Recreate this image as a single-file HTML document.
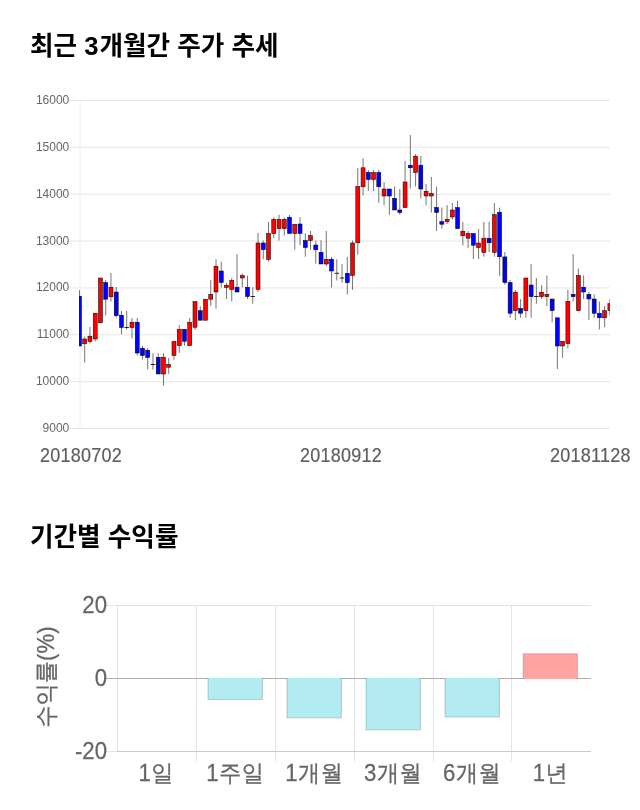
<!DOCTYPE html>
<html lang="ko">
<head>
<meta charset="utf-8">
<title>최근 3개월간 주가 추세</title>
<style>
html,body{margin:0;padding:0;background:#fff;}
body{width:640px;height:810px;position:relative;overflow:hidden;font-family:"Liberation Sans","Noto Sans CJK KR",sans-serif;}
h2{position:absolute;margin:0;left:30px;font-family:"Liberation Sans","Noto Sans CJK KR",sans-serif;font-weight:700;font-size:25.6px;line-height:36px;color:#000;white-space:nowrap;letter-spacing:0;word-spacing:0.07px;}
h2 b{font-weight:inherit;letter-spacing:0.87px;}
#t1{top:28.2px;}
#t2{top:518.6px;}
svg{position:absolute;left:0;top:0;}
.yl{font-family:"Liberation Sans",sans-serif;font-size:12px;fill:#666;text-anchor:end;}
.xl{position:absolute;top:442.7px;font-family:"Liberation Sans","Noto Sans CJK KR",sans-serif;font-size:18px;line-height:26px;color:#5e5e5e;-webkit-text-stroke:0.2px #5e5e5e;white-space:nowrap;letter-spacing:0.25px;transform:scaleY(1.08);transform-origin:0 21px;}
.bl{font-family:"Liberation Sans","WenQuanYi Zen Hei","Noto Sans CJK KR",sans-serif;font-size:22.2px;fill:#666;stroke:#666;stroke-width:0.25px;}
</style>
</head>
<body>
<h2 id="t1">최근 <b>3</b>개월간 주가 추세</h2>
<div class="xl" style="left:40px;">20180702</div>
<div class="xl" style="left:300px;">20180912</div>
<div class="xl" style="left:550px;">20181128</div>
<h2 id="t2">기간별 수익률</h2>
<svg width="640" height="810" viewBox="0 0 640 810">

<g id="grid1" stroke="#e6e6e6" stroke-width="1" fill="none">
<line x1="69.3" y1="100.50" x2="610" y2="100.50"/>
<line x1="69.3" y1="147.36" x2="610" y2="147.36"/>
<line x1="69.3" y1="194.22" x2="610" y2="194.22"/>
<line x1="69.3" y1="241.08" x2="610" y2="241.08"/>
<line x1="69.3" y1="287.94" x2="610" y2="287.94"/>
<line x1="69.3" y1="334.80" x2="610" y2="334.80"/>
<line x1="69.3" y1="381.66" x2="610" y2="381.66"/>
<line x1="69.3" y1="428.52" x2="610" y2="428.52"/>
<line x1="80" y1="100.00" x2="80" y2="428.52" stroke="#ececec"/>
</g>
<g id="ylabels1">
<text class="yl" x="69.3" y="104">16000</text>
<text class="yl" x="69.3" y="151">15000</text>
<text class="yl" x="69.3" y="198">14000</text>
<text class="yl" x="69.3" y="245">13000</text>
<text class="yl" x="69.3" y="291">12000</text>
<text class="yl" x="69.3" y="338">11000</text>
<text class="yl" x="69.3" y="385">10000</text>
<text class="yl" x="69.3" y="432">9000</text>
</g>
<clipPath id="cp"><rect x="79" y="90" width="531" height="345"/></clipPath>
<g id="candles" clip-path="url(#cp)">
<line x1="79.45" y1="290.0" x2="79.45" y2="346.0" stroke="#000" stroke-width="0.55"/>
<rect x="77.45" y="296.2" width="4.00" height="49.8" fill="#0000ff" stroke="#000" stroke-width="0.50"/>
<line x1="84.70" y1="336.5" x2="84.70" y2="362.5" stroke="#000" stroke-width="0.55"/>
<rect x="82.70" y="339.0" width="4.00" height="4.8" fill="#ff0000" stroke="#000" stroke-width="0.50"/>
<line x1="89.95" y1="327.0" x2="89.95" y2="343.5" stroke="#000" stroke-width="0.55"/>
<rect x="87.95" y="336.2" width="4.00" height="5.3" fill="#ff0000" stroke="#000" stroke-width="0.50"/>
<line x1="95.21" y1="313.2" x2="95.21" y2="341.5" stroke="#000" stroke-width="0.55"/>
<rect x="93.21" y="313.2" width="4.00" height="25.8" fill="#ff0000" stroke="#000" stroke-width="0.50"/>
<line x1="100.46" y1="278.0" x2="100.46" y2="322.8" stroke="#000" stroke-width="0.55"/>
<rect x="98.46" y="278.0" width="4.00" height="44.8" fill="#ff0000" stroke="#000" stroke-width="0.50"/>
<line x1="105.71" y1="280.0" x2="105.71" y2="315.5" stroke="#000" stroke-width="0.55"/>
<rect x="103.71" y="282.5" width="4.00" height="16.7" fill="#0000ff" stroke="#000" stroke-width="0.50"/>
<line x1="110.96" y1="273.0" x2="110.96" y2="301.5" stroke="#000" stroke-width="0.55"/>
<rect x="108.96" y="287.2" width="4.00" height="9.6" fill="#ff0000" stroke="#000" stroke-width="0.50"/>
<line x1="116.21" y1="287.0" x2="116.21" y2="317.8" stroke="#000" stroke-width="0.55"/>
<rect x="114.21" y="292.0" width="4.00" height="23.7" fill="#0000ff" stroke="#000" stroke-width="0.50"/>
<line x1="121.47" y1="311.0" x2="121.47" y2="334.2" stroke="#000" stroke-width="0.55"/>
<rect x="119.47" y="315.2" width="4.00" height="12.3" fill="#0000ff" stroke="#000" stroke-width="0.50"/>
<line x1="126.72" y1="311.0" x2="126.72" y2="329.5" stroke="#000" stroke-width="0.55"/>
<line x1="124.52" y1="327.5" x2="128.92" y2="327.5" stroke="#000" stroke-width="0.85"/>
<line x1="131.97" y1="318.0" x2="131.97" y2="338.5" stroke="#000" stroke-width="0.55"/>
<rect x="129.97" y="322.2" width="4.00" height="5.3" fill="#ff0000" stroke="#000" stroke-width="0.50"/>
<line x1="137.22" y1="318.0" x2="137.22" y2="355.3" stroke="#000" stroke-width="0.55"/>
<rect x="135.22" y="322.2" width="4.00" height="30.8" fill="#0000ff" stroke="#000" stroke-width="0.50"/>
<line x1="142.47" y1="346.0" x2="142.47" y2="359.5" stroke="#000" stroke-width="0.55"/>
<rect x="140.47" y="348.2" width="4.00" height="7.3" fill="#0000ff" stroke="#000" stroke-width="0.50"/>
<line x1="147.73" y1="348.2" x2="147.73" y2="369.5" stroke="#000" stroke-width="0.55"/>
<rect x="145.73" y="350.2" width="4.00" height="7.3" fill="#0000ff" stroke="#000" stroke-width="0.50"/>
<line x1="152.98" y1="353.2" x2="152.98" y2="369.7" stroke="#000" stroke-width="0.55"/>
<line x1="150.78" y1="364.5" x2="155.18" y2="364.5" stroke="#000" stroke-width="0.85"/>
<line x1="158.23" y1="353.2" x2="158.23" y2="374.0" stroke="#000" stroke-width="0.55"/>
<rect x="156.23" y="357.2" width="4.00" height="16.8" fill="#0000ff" stroke="#000" stroke-width="0.50"/>
<line x1="163.48" y1="353.2" x2="163.48" y2="385.7" stroke="#000" stroke-width="0.55"/>
<rect x="161.48" y="357.2" width="4.00" height="16.8" fill="#ff0000" stroke="#000" stroke-width="0.50"/>
<line x1="168.73" y1="357.8" x2="168.73" y2="373.8" stroke="#000" stroke-width="0.55"/>
<rect x="166.73" y="364.5" width="4.00" height="2.7" fill="#ff0000" stroke="#000" stroke-width="0.50"/>
<line x1="173.99" y1="341.5" x2="173.99" y2="359.7" stroke="#000" stroke-width="0.55"/>
<rect x="171.99" y="341.5" width="4.00" height="14.0" fill="#ff0000" stroke="#000" stroke-width="0.50"/>
<line x1="179.24" y1="325.0" x2="179.24" y2="352.8" stroke="#000" stroke-width="0.55"/>
<rect x="177.24" y="329.3" width="4.00" height="16.4" fill="#ff0000" stroke="#000" stroke-width="0.50"/>
<line x1="184.49" y1="329.3" x2="184.49" y2="345.7" stroke="#000" stroke-width="0.55"/>
<rect x="182.49" y="329.3" width="4.00" height="12.0" fill="#0000ff" stroke="#000" stroke-width="0.50"/>
<line x1="189.74" y1="318.0" x2="189.74" y2="345.7" stroke="#000" stroke-width="0.55"/>
<rect x="187.74" y="322.2" width="4.00" height="23.5" fill="#ff0000" stroke="#000" stroke-width="0.50"/>
<line x1="194.99" y1="301.5" x2="194.99" y2="329.7" stroke="#000" stroke-width="0.55"/>
<rect x="192.99" y="301.5" width="4.00" height="25.7" fill="#ff0000" stroke="#000" stroke-width="0.50"/>
<line x1="200.25" y1="306.2" x2="200.25" y2="320.2" stroke="#000" stroke-width="0.55"/>
<rect x="198.25" y="310.7" width="4.00" height="9.5" fill="#0000ff" stroke="#000" stroke-width="0.50"/>
<line x1="205.50" y1="299.2" x2="205.50" y2="320.2" stroke="#000" stroke-width="0.55"/>
<rect x="203.50" y="299.2" width="4.00" height="21.0" fill="#ff0000" stroke="#000" stroke-width="0.50"/>
<line x1="210.75" y1="280.0" x2="210.75" y2="306.0" stroke="#000" stroke-width="0.55"/>
<rect x="208.75" y="294.3" width="4.00" height="4.9" fill="#ff0000" stroke="#000" stroke-width="0.50"/>
<line x1="216.00" y1="259.2" x2="216.00" y2="308.7" stroke="#000" stroke-width="0.55"/>
<rect x="214.00" y="266.2" width="4.00" height="25.8" fill="#ff0000" stroke="#000" stroke-width="0.50"/>
<line x1="221.25" y1="261.5" x2="221.25" y2="287.5" stroke="#000" stroke-width="0.55"/>
<rect x="219.25" y="271.0" width="4.00" height="11.5" fill="#0000ff" stroke="#000" stroke-width="0.50"/>
<line x1="226.51" y1="283.0" x2="226.51" y2="299.0" stroke="#000" stroke-width="0.55"/>
<rect x="224.51" y="285.2" width="4.00" height="2.3" fill="#ff0000" stroke="#000" stroke-width="0.50"/>
<line x1="231.76" y1="278.0" x2="231.76" y2="301.5" stroke="#000" stroke-width="0.55"/>
<rect x="229.76" y="280.3" width="4.00" height="9.2" fill="#ff0000" stroke="#000" stroke-width="0.50"/>
<line x1="237.01" y1="254.2" x2="237.01" y2="292.0" stroke="#000" stroke-width="0.55"/>
<rect x="235.01" y="287.2" width="4.00" height="4.8" fill="#0000ff" stroke="#000" stroke-width="0.50"/>
<line x1="242.26" y1="273.2" x2="242.26" y2="287.5" stroke="#000" stroke-width="0.55"/>
<rect x="240.26" y="275.5" width="4.00" height="2.5" fill="#ff0000" stroke="#000" stroke-width="0.50"/>
<line x1="247.51" y1="275.8" x2="247.51" y2="299.0" stroke="#000" stroke-width="0.55"/>
<rect x="245.51" y="287.2" width="4.00" height="9.3" fill="#0000ff" stroke="#000" stroke-width="0.50"/>
<line x1="252.77" y1="287.2" x2="252.77" y2="303.7" stroke="#000" stroke-width="0.55"/>
<line x1="250.57" y1="296.5" x2="254.97" y2="296.5" stroke="#000" stroke-width="0.85"/>
<line x1="258.02" y1="233.0" x2="258.02" y2="291.8" stroke="#000" stroke-width="0.55"/>
<rect x="256.02" y="243.0" width="4.00" height="46.5" fill="#ff0000" stroke="#000" stroke-width="0.50"/>
<line x1="263.27" y1="240.5" x2="263.27" y2="259.2" stroke="#000" stroke-width="0.55"/>
<rect x="261.27" y="243.0" width="4.00" height="6.7" fill="#0000ff" stroke="#000" stroke-width="0.50"/>
<line x1="268.52" y1="222.0" x2="268.52" y2="261.5" stroke="#000" stroke-width="0.55"/>
<rect x="266.52" y="233.5" width="4.00" height="26.0" fill="#ff0000" stroke="#000" stroke-width="0.50"/>
<line x1="273.77" y1="217.2" x2="273.77" y2="238.0" stroke="#000" stroke-width="0.55"/>
<rect x="271.77" y="219.3" width="4.00" height="14.2" fill="#ff0000" stroke="#000" stroke-width="0.50"/>
<line x1="279.03" y1="214.8" x2="279.03" y2="240.5" stroke="#000" stroke-width="0.55"/>
<rect x="277.03" y="219.3" width="4.00" height="9.4" fill="#ff0000" stroke="#000" stroke-width="0.50"/>
<line x1="284.28" y1="217.2" x2="284.28" y2="235.5" stroke="#000" stroke-width="0.55"/>
<rect x="282.28" y="219.3" width="4.00" height="9.4" fill="#ff0000" stroke="#000" stroke-width="0.50"/>
<line x1="289.53" y1="215.0" x2="289.53" y2="233.5" stroke="#000" stroke-width="0.55"/>
<rect x="287.53" y="217.2" width="4.00" height="16.3" fill="#0000ff" stroke="#000" stroke-width="0.50"/>
<line x1="294.78" y1="224.3" x2="294.78" y2="249.7" stroke="#000" stroke-width="0.55"/>
<rect x="292.78" y="224.3" width="4.00" height="9.2" fill="#ff0000" stroke="#000" stroke-width="0.50"/>
<line x1="300.03" y1="217.2" x2="300.03" y2="245.2" stroke="#000" stroke-width="0.55"/>
<rect x="298.03" y="224.0" width="4.00" height="9.5" fill="#0000ff" stroke="#000" stroke-width="0.50"/>
<line x1="305.29" y1="233.5" x2="305.29" y2="256.7" stroke="#000" stroke-width="0.55"/>
<rect x="303.29" y="240.5" width="4.00" height="7.0" fill="#0000ff" stroke="#000" stroke-width="0.50"/>
<line x1="310.54" y1="231.0" x2="310.54" y2="249.7" stroke="#000" stroke-width="0.55"/>
<rect x="308.54" y="235.7" width="4.00" height="4.8" fill="#ff0000" stroke="#000" stroke-width="0.50"/>
<line x1="315.79" y1="240.5" x2="315.79" y2="263.7" stroke="#000" stroke-width="0.55"/>
<rect x="313.79" y="245.0" width="4.00" height="4.8" fill="#0000ff" stroke="#000" stroke-width="0.50"/>
<line x1="321.04" y1="240.2" x2="321.04" y2="264.0" stroke="#000" stroke-width="0.55"/>
<rect x="319.04" y="252.2" width="4.00" height="11.8" fill="#0000ff" stroke="#000" stroke-width="0.50"/>
<line x1="326.29" y1="231.0" x2="326.29" y2="266.2" stroke="#000" stroke-width="0.55"/>
<rect x="324.29" y="259.2" width="4.00" height="4.8" fill="#ff0000" stroke="#000" stroke-width="0.50"/>
<line x1="331.55" y1="257.0" x2="331.55" y2="287.5" stroke="#000" stroke-width="0.55"/>
<rect x="329.55" y="259.2" width="4.00" height="11.8" fill="#0000ff" stroke="#000" stroke-width="0.50"/>
<line x1="336.80" y1="259.2" x2="336.80" y2="280.5" stroke="#000" stroke-width="0.55"/>
<line x1="334.60" y1="273.3" x2="339.00" y2="273.3" stroke="#000" stroke-width="0.85"/>
<line x1="342.05" y1="264.0" x2="342.05" y2="282.7" stroke="#000" stroke-width="0.55"/>
<line x1="339.85" y1="278.0" x2="344.25" y2="278.0" stroke="#000" stroke-width="0.85"/>
<line x1="347.30" y1="257.0" x2="347.30" y2="294.5" stroke="#000" stroke-width="0.55"/>
<rect x="345.30" y="273.3" width="4.00" height="9.4" fill="#0000ff" stroke="#000" stroke-width="0.50"/>
<line x1="352.55" y1="240.5" x2="352.55" y2="289.8" stroke="#000" stroke-width="0.55"/>
<rect x="350.55" y="243.0" width="4.00" height="32.5" fill="#ff0000" stroke="#000" stroke-width="0.50"/>
<line x1="357.81" y1="168.0" x2="357.81" y2="254.8" stroke="#000" stroke-width="0.55"/>
<rect x="355.81" y="186.5" width="4.00" height="56.3" fill="#ff0000" stroke="#000" stroke-width="0.50"/>
<line x1="363.06" y1="158.2" x2="363.06" y2="195.5" stroke="#000" stroke-width="0.55"/>
<rect x="361.06" y="167.8" width="4.00" height="19.0" fill="#ff0000" stroke="#000" stroke-width="0.50"/>
<line x1="368.31" y1="170.0" x2="368.31" y2="191.0" stroke="#000" stroke-width="0.55"/>
<rect x="366.31" y="172.5" width="4.00" height="7.0" fill="#0000ff" stroke="#000" stroke-width="0.50"/>
<line x1="373.56" y1="170.0" x2="373.56" y2="191.0" stroke="#000" stroke-width="0.55"/>
<rect x="371.56" y="172.5" width="4.00" height="7.0" fill="#ff0000" stroke="#000" stroke-width="0.50"/>
<line x1="378.81" y1="170.0" x2="378.81" y2="202.8" stroke="#000" stroke-width="0.55"/>
<rect x="376.81" y="172.5" width="4.00" height="14.3" fill="#0000ff" stroke="#000" stroke-width="0.50"/>
<line x1="384.07" y1="182.0" x2="384.07" y2="205.5" stroke="#000" stroke-width="0.55"/>
<rect x="382.07" y="189.0" width="4.00" height="7.0" fill="#ff0000" stroke="#000" stroke-width="0.50"/>
<line x1="389.32" y1="189.0" x2="389.32" y2="214.8" stroke="#000" stroke-width="0.55"/>
<rect x="387.32" y="189.0" width="4.00" height="7.0" fill="#0000ff" stroke="#000" stroke-width="0.50"/>
<line x1="394.57" y1="186.5" x2="394.57" y2="210.0" stroke="#000" stroke-width="0.55"/>
<rect x="392.57" y="198.3" width="4.00" height="11.7" fill="#0000ff" stroke="#000" stroke-width="0.50"/>
<line x1="399.82" y1="189.0" x2="399.82" y2="214.8" stroke="#000" stroke-width="0.55"/>
<rect x="397.82" y="210.0" width="4.00" height="2.5" fill="#0000ff" stroke="#000" stroke-width="0.50"/>
<line x1="405.07" y1="161.0" x2="405.07" y2="207.6" stroke="#000" stroke-width="0.55"/>
<rect x="403.07" y="182.0" width="4.00" height="25.6" fill="#ff0000" stroke="#000" stroke-width="0.50"/>
<line x1="410.33" y1="135.0" x2="410.33" y2="188.7" stroke="#000" stroke-width="0.55"/>
<rect x="408.33" y="165.2" width="4.00" height="2.6" fill="#0000ff" stroke="#000" stroke-width="0.50"/>
<line x1="415.58" y1="154.0" x2="415.58" y2="186.5" stroke="#000" stroke-width="0.55"/>
<rect x="413.58" y="156.2" width="4.00" height="16.3" fill="#ff0000" stroke="#000" stroke-width="0.50"/>
<line x1="420.83" y1="156.0" x2="420.83" y2="198.5" stroke="#000" stroke-width="0.55"/>
<rect x="418.83" y="165.2" width="4.00" height="23.8" fill="#0000ff" stroke="#000" stroke-width="0.50"/>
<line x1="426.08" y1="184.0" x2="426.08" y2="205.5" stroke="#000" stroke-width="0.55"/>
<rect x="424.08" y="191.2" width="4.00" height="4.8" fill="#ff0000" stroke="#000" stroke-width="0.50"/>
<line x1="431.33" y1="177.0" x2="431.33" y2="212.5" stroke="#000" stroke-width="0.55"/>
<rect x="429.33" y="193.5" width="4.00" height="2.5" fill="#ff0000" stroke="#000" stroke-width="0.50"/>
<line x1="436.59" y1="186.5" x2="436.59" y2="231.0" stroke="#000" stroke-width="0.55"/>
<rect x="434.59" y="207.5" width="4.00" height="5.0" fill="#0000ff" stroke="#000" stroke-width="0.50"/>
<line x1="441.84" y1="207.5" x2="441.84" y2="228.8" stroke="#000" stroke-width="0.55"/>
<rect x="439.84" y="221.7" width="4.00" height="2.5" fill="#0000ff" stroke="#000" stroke-width="0.50"/>
<line x1="447.09" y1="205.0" x2="447.09" y2="224.0" stroke="#000" stroke-width="0.55"/>
<rect x="445.09" y="219.3" width="4.00" height="2.4" fill="#ff0000" stroke="#000" stroke-width="0.50"/>
<line x1="452.34" y1="203.0" x2="452.34" y2="219.5" stroke="#000" stroke-width="0.55"/>
<rect x="450.34" y="210.0" width="4.00" height="7.0" fill="#ff0000" stroke="#000" stroke-width="0.50"/>
<line x1="457.59" y1="200.7" x2="457.59" y2="228.7" stroke="#000" stroke-width="0.55"/>
<rect x="455.59" y="207.5" width="4.00" height="21.2" fill="#0000ff" stroke="#000" stroke-width="0.50"/>
<line x1="462.85" y1="221.8" x2="462.85" y2="245.5" stroke="#000" stroke-width="0.55"/>
<rect x="460.85" y="231.2" width="4.00" height="4.6" fill="#ff0000" stroke="#000" stroke-width="0.50"/>
<line x1="468.10" y1="231.2" x2="468.10" y2="247.8" stroke="#000" stroke-width="0.55"/>
<rect x="466.10" y="233.5" width="4.00" height="4.7" fill="#ff0000" stroke="#000" stroke-width="0.50"/>
<line x1="473.35" y1="233.5" x2="473.35" y2="259.0" stroke="#000" stroke-width="0.55"/>
<rect x="471.35" y="233.5" width="4.00" height="11.7" fill="#0000ff" stroke="#000" stroke-width="0.50"/>
<line x1="478.60" y1="229.0" x2="478.60" y2="259.0" stroke="#000" stroke-width="0.55"/>
<rect x="476.60" y="243.0" width="4.00" height="4.5" fill="#ff0000" stroke="#000" stroke-width="0.50"/>
<line x1="483.85" y1="221.8" x2="483.85" y2="256.7" stroke="#000" stroke-width="0.55"/>
<rect x="481.85" y="238.2" width="4.00" height="14.3" fill="#ff0000" stroke="#000" stroke-width="0.50"/>
<line x1="489.11" y1="221.8" x2="489.11" y2="252.2" stroke="#000" stroke-width="0.55"/>
<rect x="487.11" y="238.2" width="4.00" height="4.6" fill="#0000ff" stroke="#000" stroke-width="0.50"/>
<line x1="494.36" y1="203.0" x2="494.36" y2="256.7" stroke="#000" stroke-width="0.55"/>
<rect x="492.36" y="214.5" width="4.00" height="37.9" fill="#ff0000" stroke="#000" stroke-width="0.50"/>
<line x1="499.61" y1="207.7" x2="499.61" y2="275.8" stroke="#000" stroke-width="0.55"/>
<rect x="497.61" y="212.2" width="4.00" height="44.6" fill="#0000ff" stroke="#000" stroke-width="0.50"/>
<line x1="504.86" y1="252.0" x2="504.86" y2="284.8" stroke="#000" stroke-width="0.55"/>
<rect x="502.86" y="256.9" width="4.00" height="25.6" fill="#0000ff" stroke="#000" stroke-width="0.50"/>
<line x1="510.11" y1="280.0" x2="510.11" y2="317.8" stroke="#000" stroke-width="0.55"/>
<rect x="508.11" y="282.5" width="4.00" height="30.7" fill="#0000ff" stroke="#000" stroke-width="0.50"/>
<line x1="515.37" y1="290.0" x2="515.37" y2="320.0" stroke="#000" stroke-width="0.55"/>
<rect x="513.37" y="292.2" width="4.00" height="18.5" fill="#ff0000" stroke="#000" stroke-width="0.50"/>
<line x1="520.62" y1="299.0" x2="520.62" y2="317.8" stroke="#000" stroke-width="0.55"/>
<rect x="518.62" y="308.3" width="4.00" height="4.9" fill="#0000ff" stroke="#000" stroke-width="0.50"/>
<line x1="525.87" y1="278.0" x2="525.87" y2="317.8" stroke="#000" stroke-width="0.55"/>
<rect x="523.87" y="278.0" width="4.00" height="32.7" fill="#ff0000" stroke="#000" stroke-width="0.50"/>
<line x1="531.12" y1="264.0" x2="531.12" y2="317.8" stroke="#000" stroke-width="0.55"/>
<rect x="529.12" y="285.0" width="4.00" height="11.7" fill="#0000ff" stroke="#000" stroke-width="0.50"/>
<line x1="536.37" y1="278.0" x2="536.37" y2="303.7" stroke="#000" stroke-width="0.55"/>
<line x1="534.17" y1="296.5" x2="538.57" y2="296.5" stroke="#000" stroke-width="0.85"/>
<line x1="541.63" y1="285.0" x2="541.63" y2="299.0" stroke="#000" stroke-width="0.55"/>
<rect x="539.63" y="292.2" width="4.00" height="4.5" fill="#ff0000" stroke="#000" stroke-width="0.50"/>
<line x1="546.88" y1="275.5" x2="546.88" y2="306.0" stroke="#000" stroke-width="0.55"/>
<rect x="544.88" y="294.3" width="4.00" height="2.4" fill="#ff0000" stroke="#000" stroke-width="0.50"/>
<line x1="552.13" y1="299.0" x2="552.13" y2="322.5" stroke="#000" stroke-width="0.55"/>
<rect x="550.13" y="299.0" width="4.00" height="11.7" fill="#0000ff" stroke="#000" stroke-width="0.50"/>
<line x1="557.38" y1="317.8" x2="557.38" y2="369.0" stroke="#000" stroke-width="0.55"/>
<rect x="555.38" y="317.8" width="4.00" height="28.2" fill="#0000ff" stroke="#000" stroke-width="0.50"/>
<line x1="562.63" y1="341.3" x2="562.63" y2="357.8" stroke="#000" stroke-width="0.55"/>
<rect x="560.63" y="341.3" width="4.00" height="4.7" fill="#ff0000" stroke="#000" stroke-width="0.50"/>
<line x1="567.89" y1="289.7" x2="567.89" y2="348.5" stroke="#000" stroke-width="0.55"/>
<rect x="565.89" y="301.3" width="4.00" height="42.4" fill="#ff0000" stroke="#000" stroke-width="0.50"/>
<line x1="573.14" y1="254.2" x2="573.14" y2="301.5" stroke="#000" stroke-width="0.55"/>
<rect x="571.14" y="294.3" width="4.00" height="2.4" fill="#0000ff" stroke="#000" stroke-width="0.50"/>
<line x1="578.39" y1="268.5" x2="578.39" y2="310.7" stroke="#000" stroke-width="0.55"/>
<rect x="576.39" y="275.5" width="4.00" height="35.2" fill="#ff0000" stroke="#000" stroke-width="0.50"/>
<line x1="583.64" y1="275.5" x2="583.64" y2="299.0" stroke="#000" stroke-width="0.55"/>
<rect x="581.64" y="287.2" width="4.00" height="4.8" fill="#0000ff" stroke="#000" stroke-width="0.50"/>
<line x1="588.89" y1="292.0" x2="588.89" y2="320.0" stroke="#000" stroke-width="0.55"/>
<rect x="586.89" y="294.3" width="4.00" height="4.7" fill="#0000ff" stroke="#000" stroke-width="0.50"/>
<line x1="594.15" y1="294.3" x2="594.15" y2="317.8" stroke="#000" stroke-width="0.55"/>
<rect x="592.15" y="299.0" width="4.00" height="14.2" fill="#0000ff" stroke="#000" stroke-width="0.50"/>
<line x1="599.40" y1="301.5" x2="599.40" y2="329.5" stroke="#000" stroke-width="0.55"/>
<rect x="597.40" y="313.2" width="4.00" height="4.6" fill="#0000ff" stroke="#000" stroke-width="0.50"/>
<line x1="604.65" y1="306.0" x2="604.65" y2="327.2" stroke="#000" stroke-width="0.55"/>
<rect x="602.65" y="310.7" width="4.00" height="7.1" fill="#ff0000" stroke="#000" stroke-width="0.50"/>
<line x1="609.90" y1="299.0" x2="609.90" y2="315.5" stroke="#000" stroke-width="0.55"/>
<rect x="607.90" y="303.7" width="4.00" height="7.0" fill="#ff0000" stroke="#000" stroke-width="0.50"/>
</g>
<g id="grid2" fill="none" stroke-width="1">
<line x1="117.5" y1="605.0" x2="117.5" y2="751.5" stroke="#e4e4e4"/>
<line x1="196.5" y1="605.0" x2="196.5" y2="761.5" stroke="#e4e4e4"/>
<line x1="275.5" y1="605.0" x2="275.5" y2="761.5" stroke="#e4e4e4"/>
<line x1="354.5" y1="605.0" x2="354.5" y2="761.5" stroke="#e4e4e4"/>
<line x1="433.5" y1="605.0" x2="433.5" y2="761.5" stroke="#e4e4e4"/>
<line x1="511.5" y1="605.0" x2="511.5" y2="761.5" stroke="#e4e4e4"/>
<line x1="106.5" y1="605.5" x2="591.0" y2="605.5" stroke="#e4e4e4"/>
<line x1="106.5" y1="751.5" x2="117.5" y2="751.5" stroke="#e4e4e4"/>
<line x1="117.0" y1="751.5" x2="591.0" y2="751.5" stroke="#cacaca"/>
</g>
<line x1="106.5" y1="678.5" x2="591.0" y2="678.5" stroke="#adadad" stroke-width="1"/>
<g id="bars">
<rect x="208.05" y="678.0" width="54.4" height="21.5" fill="#b3ebf3"/>
<path d="M208.05 678.0V699.5H262.45V678.0" fill="none" stroke="rgba(0,0,0,0.16)" stroke-width="1.2"/>
<rect x="287.05" y="678.0" width="54.4" height="40.0" fill="#b3ebf3"/>
<path d="M287.05 678.0V718.0H341.45V678.0" fill="none" stroke="rgba(0,0,0,0.16)" stroke-width="1.2"/>
<rect x="366.00" y="678.0" width="54.4" height="52.0" fill="#b3ebf3"/>
<path d="M366.00 678.0V730.0H420.40V678.0" fill="none" stroke="rgba(0,0,0,0.16)" stroke-width="1.2"/>
<rect x="445.05" y="678.0" width="54.4" height="38.8" fill="#b3ebf3"/>
<path d="M445.05 678.0V716.8H499.45V678.0" fill="none" stroke="rgba(0,0,0,0.16)" stroke-width="1.2"/>
<rect x="523.05" y="653.7" width="54.4" height="25.3" fill="#ffa3a3"/>
<path d="M523.05 679.0V653.7H577.45V679.0" fill="none" stroke="rgba(0,0,0,0.13)" stroke-width="1.2"/>
</g>
<g id="blabels">
<text class="bl" transform="translate(107,612.5) scale(1,1.06)" text-anchor="end">20</text>
<text class="bl" transform="translate(107,685.5) scale(1,1.06)" text-anchor="end">0</text>
<text class="bl" transform="translate(107,758.5) scale(1,1.06)" text-anchor="end">-20</text>
<text class="bl" transform="translate(156.3,781.2) scale(1,1.05)" text-anchor="middle" letter-spacing="0.5">1일</text>
<text class="bl" transform="translate(235.3,781.2) scale(1,1.05)" text-anchor="middle" letter-spacing="0.5">1주일</text>
<text class="bl" transform="translate(314.3,781.2) scale(1,1.05)" text-anchor="middle" letter-spacing="0.5">1개월</text>
<text class="bl" transform="translate(393.2,781.2) scale(1,1.05)" text-anchor="middle" letter-spacing="0.5">3개월</text>
<text class="bl" transform="translate(472.2,781.2) scale(1,1.05)" text-anchor="middle" letter-spacing="0.5">6개월</text>
<text class="bl" transform="translate(550.5,781.2) scale(1,1.05)" text-anchor="middle" letter-spacing="0.5">1년</text>
<text class="bl" transform="translate(53.8,677) rotate(-90) scale(1,1.05)" text-anchor="middle" letter-spacing="0.1">수익률(%)</text>
</g>
</svg>
</body>
</html>
